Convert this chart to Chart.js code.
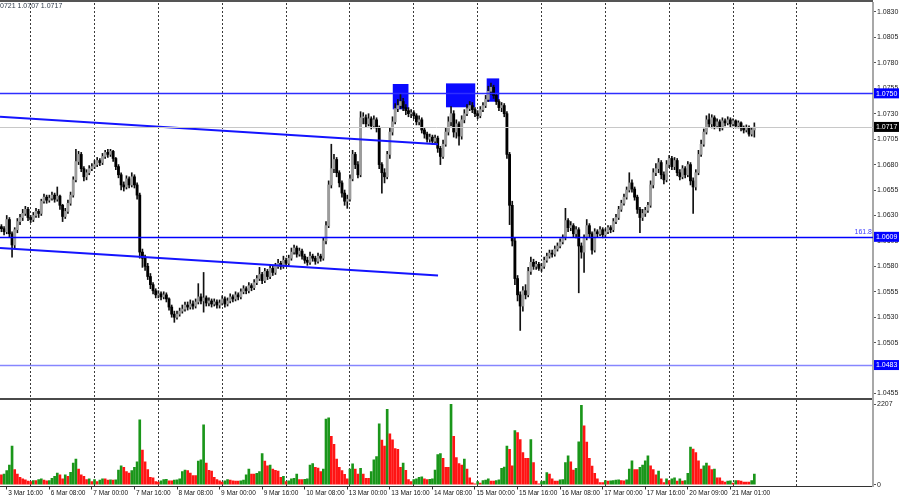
<!DOCTYPE html>
<html>
<head>
<meta charset="utf-8">
<script src="https://cdn.jsdelivr.net/npm/chart.js@4.4.1/dist/chart.umd.min.js"></script>
<style>
  html, body { margin: 0; padding: 0; background: #fff; }
  #wrap { position: relative; width: 900px; height: 500px; overflow: hidden; }
  #priceBox { position: absolute; left: 0; top: 0; width: 900px; height: 397px; }
  #volBox { position: absolute; left: 0; top: 397px; width: 900px; height: 103px; }
</style>
</head>
<body>
<div id="wrap">
  <div id="priceBox"><canvas id="priceChart"></canvas></div>
  <div id="volBox"><canvas id="volChart"></canvas></div>
</div>
<script>
// EURUSD H1, 3-21 Mar. OHLC kept in pips above 1.0000 (617 = 1.0617), one entry per hourly bar.
const OPEN = [
619,617,614,626,612,601,616,624,628,632,
636,628,626,630,634,632,644,648,645,647,
650,646,649,640,629,634,642,650,665,683,
690,676,668,672,676,678,680,684,682,688,
692,690,693,686,678,670,660,658,666,660,
668,660,650,594,588,580,570,562,556,552,
553,550,552,548,540,533,530,533,536,538,
542,540,543,541,545,550,546,549,544,546,
543,545,542,544,548,543,546,550,548,552,
550,555,558,556,561,559,564,568,572,566,
575,570,578,574,580,583,580,586,583,588,
594,598,592,595,590,586,584,590,588,585,
590,588,605,620,660,676,685,672,662,652,
644,646,666,690,680,670,726,726,720,725,
718,724,716,680,672,668,690,712,722,735,
738,742,736,733,730,731,728,722,724,714,
710,705,707,703,706,696,688,700,712,722,
730,712,720,708,724,730,735,738,734,730,
728,734,738,744,752,756,748,742,736,738,
730,690,640,605,568,552,541,556,552,575,
584,580,582,578,580,586,590,593,592,597,
600,604,608,625,618,620,612,616,600,594,
608,620,612,596,614,612,616,611,614,618,
616,624,628,636,642,648,655,662,656,648,
636,628,632,635,640,660,672,676,682,670,
665,680,686,678,684,672,668,676,670,680,
664,658,672,690,700,712,724,720,726,718,
722,716,723,721,724,720,723,718,721,716,
714,716,710,714
];
const HIGH = [
621,619,630,628,614,618,627,631,636,639,
638,630,633,637,636,646,651,650,650,653,
652,658,650,641,637,645,653,668,695,693,
692,678,675,679,681,684,687,686,691,694,
695,695,694,687,680,672,663,669,668,672,
670,662,652,597,591,583,573,564,558,556,
555,555,554,549,542,536,536,539,542,545,
545,547,546,548,563,553,574,551,549,548,
548,547,547,551,550,549,553,552,555,554,
558,561,560,564,563,567,571,579,574,578,
577,581,580,583,587,585,590,588,591,598,
601,600,598,597,592,589,594,592,590,593,
592,608,624,664,700,690,687,674,664,655,
650,670,694,692,683,732,731,729,730,727,
728,726,718,682,676,693,716,727,740,744,
750,745,739,736,734,733,730,728,726,716,
712,710,709,709,708,698,704,716,727,737,
733,724,722,728,734,739,742,741,736,733,
737,741,748,757,760,758,750,744,741,740,
732,692,644,608,571,555,560,562,579,589,
587,585,584,583,589,593,596,596,600,603,
607,611,637,627,624,622,619,618,603,611,
626,622,614,617,616,619,618,617,620,620,
627,631,639,645,651,658,672,665,658,650,
638,636,638,643,664,676,681,686,684,673,
684,689,688,687,686,675,679,678,683,682,
667,675,694,704,715,728,730,729,728,725,
724,726,725,727,726,725,724,723,722,718,
719,718,716,721
];
const LOW = [
614,611,612,609,589,598,613,621,625,630,
625,623,624,628,628,630,642,642,643,645,
643,644,636,624,627,632,640,648,663,680,
673,664,665,670,674,676,678,679,680,686,
687,688,683,675,667,655,654,656,657,658,
657,646,588,579,576,567,558,553,549,549,
547,548,545,537,530,525,528,531,534,536,
537,538,538,539,543,543,535,541,541,540,
541,539,539,542,540,541,544,545,546,547,
548,553,553,554,556,557,562,566,563,564,
567,568,571,572,578,577,578,580,581,586,
592,589,590,587,583,581,582,585,582,583,
585,586,602,618,657,672,668,658,648,640,
637,644,664,676,667,668,720,717,718,715,
716,712,676,652,662,666,686,709,720,732,
735,733,729,727,726,725,719,719,711,706,
702,702,700,701,692,680,686,698,709,718,
707,706,699,705,721,728,733,731,727,725,
726,732,736,742,749,745,739,733,732,727,
686,621,600,562,546,517,536,548,550,572,
577,577,576,575,578,584,588,589,590,595,
598,602,606,614,615,609,608,554,588,574,
606,608,592,594,609,610,608,609,612,613,
614,622,626,634,640,646,653,653,645,632,
613,625,629,633,638,657,669,672,666,661,
663,677,675,675,669,665,666,667,668,660,
632,655,670,688,698,710,717,716,715,716,
713,714,718,719,717,718,716,716,713,711,
712,708,708,707
];
const CLOSE = [
617,614,626,612,601,616,624,628,632,636,
628,626,630,634,632,644,648,645,647,650,
646,649,640,629,634,642,650,665,683,690,
676,668,672,676,678,680,684,682,688,692,
690,693,686,678,670,660,658,666,660,668,
660,650,594,588,580,570,562,556,552,553,
550,552,548,540,533,530,533,536,538,542,
540,543,541,545,550,546,549,544,546,543,
545,542,544,548,543,546,550,548,552,550,
555,558,556,561,559,564,568,572,566,575,
570,578,574,580,583,580,586,583,588,594,
598,592,595,590,586,584,590,588,585,590,
588,605,620,660,676,685,672,662,652,644,
646,666,690,680,670,726,726,720,725,718,
724,716,680,672,668,690,712,722,735,738,
742,736,733,730,731,728,722,724,714,710,
705,707,703,706,696,688,700,712,722,730,
712,720,708,724,730,735,738,734,730,728,
734,738,744,752,756,748,742,736,738,730,
690,640,605,568,552,541,556,552,575,584,
580,582,578,580,586,590,593,592,597,600,
604,608,625,618,620,612,616,600,594,608,
620,612,596,614,612,616,611,614,618,616,
624,628,636,642,648,655,662,656,648,636,
628,632,635,640,660,672,676,682,670,665,
680,686,678,684,672,668,676,670,680,664,
658,672,690,700,712,724,720,726,718,722,
716,723,721,724,720,723,718,721,716,714,
716,710,714,717
];
// tick volumes per bar
const VOLUME = [
270,297,387,540,1062,414,297,207,162,135,
99,90,117,117,144,162,126,108,117,180,
234,324,270,162,270,234,342,594,702,432,
270,234,144,162,90,144,90,126,162,162,
126,135,126,135,405,522,477,360,324,387,
477,630,1782,954,630,414,207,189,90,72,
108,144,153,108,108,126,135,162,360,405,
387,324,252,252,648,684,1647,594,396,378,
207,144,108,72,108,144,126,108,99,99,
108,126,270,432,297,297,315,360,855,648,
522,540,432,396,378,207,234,90,108,162,
180,297,144,144,153,162,540,585,477,459,
360,432,1800,1836,1332,1107,702,477,387,288,
162,432,576,432,297,450,297,180,180,360,
684,774,1674,1224,1062,2070,1395,1233,990,972,
477,594,396,144,90,144,162,207,216,162,
144,153,162,405,828,855,729,477,477,2207,
1332,747,585,540,702,432,189,54,27,90,
45,117,126,162,99,99,117,135,450,486,
1062,972,522,1485,1431,1242,882,729,729,1242,
612,99,27,90,99,333,297,162,99,99,
135,144,612,792,630,405,450,1179,2180,1620,
1170,729,513,315,162,63,63,117,99,108,
117,126,135,117,108,135,432,657,414,414,
477,540,657,792,522,414,270,378,162,63,
162,117,162,189,99,162,99,117,315,1035,
981,882,657,432,522,594,522,414,432,189,
189,99,72,99,108,45,117,117,99,72,
72,72,117,297
];

const TIME_LABELS = ['3 Mar 16:00', '6 Mar 08:00', '7 Mar 00:00', '7 Mar 16:00', '8 Mar 08:00',
  '9 Mar 00:00', '9 Mar 16:00', '10 Mar 08:00', '13 Mar 00:00', '13 Mar 16:00', '14 Mar 08:00',
  '15 Mar 00:00', '15 Mar 16:00', '16 Mar 08:00', '17 Mar 00:00', '17 Mar 16:00', '20 Mar 09:00',
  '21 Mar 01:00'];
const LABEL_BARS = [2, 18, 34, 50, 66, 82, 98, 114, 130, 146, 162, 178, 194, 210, 226, 242, 258, 274];
const GRID_BARS = [11, 35, 59, 83, 107, 131, 155, 179, 203, 227, 251, 275, 299];
const PRICE_TICKS = [1.0455, 1.0480, 1.0505, 1.0530, 1.0555, 1.0580, 1.0605, 1.0630, 1.0655,
  1.0680, 1.0705, 1.0730, 1.0755, 1.0780, 1.0805, 1.0830];
const VOL_TICKS = [0, 2207];

// horizontal levels and their tags on the price scale
const LEVELS = [1.0750, 1.0717, 1.0609, 1.0483];
const LEVEL_TAGS = ['1.0750', '1.0717', '1.0609', '1.0483'];
const FIBO_TEXT = '161.8';

// channel lines (bar index, price)
const TREND_X = [-0.53, 164.1];
const UPPER_Y = [1.0727, 1.0700];
const LOWER_Y = [1.0598, 1.0571];

// highlighted rectangles (bar index range, price range)
const BOX_FROM = [147.1, 167.1, 182.4];
const BOX_TO = [153.0, 178.1, 187.1];
const BOX_TOP = [1.07592, 1.07598, 1.07647];
const BOX_BOTTOM = [1.07343, 1.07363, 1.07418];

const HEADER = '1.0721 1.0707 1.0717';

const X_MIN = -0.53, X_MAX = 327.6;
const PRICE_MIN = 1.04516, PRICE_MAX = 1.08388;
const VOL_MIN = -47, VOL_MAX = 2326;

const AXIS_W = 27;
const FONT = 'Liberation Sans';
const BULL = '#9c9c9c';
const BEAR = '#000000';
const WICK = '#111111';
const BLUE = '#1414ff';
const VGREEN = '#1a961a';
const VRED = '#ff1414';
const LEVEL_COLORS = ['#2e2eff', '#c8c8c8', '#0000ff', '#8686ff'];
const LEVEL_WIDTHS = [1.4, 1, 1.5, 1.4];
const TAG_BG = ['#0000ff', '#000000', '#0000ff', '#0000ff'];

Chart.defaults.font.family = FONT;

const px = (p) => 1 + p / 10000;
const wickData = HIGH.map((h, i) => ({ x: i, y: [px(LOW[i]), px(h)] }));
const bodyData = OPEN.map((o, i) => ({ x: i, y: [px(o), px(CLOSE[i])] }));
const bodyColors = OPEN.map((o, i) => (CLOSE[i] >= o ? BULL : BEAR));
const volData = VOLUME.map((v, i) => ({ x: i, y: v }));
const volColors = VOLUME.map((v, i) => (i > 0 && v > VOLUME[i - 1] ? VGREEN : VRED));

function xAxis(ticksAt, extra) {
  return Object.assign({
    type: 'linear', min: X_MIN, max: X_MAX, bounds: 'data', offset: false,
    afterBuildTicks: (s) => { s.ticks = ticksAt.map((v) => ({ value: v })); },
    afterFit: (s) => { s.height = 0; s.paddingLeft = 0; s.paddingRight = 0; },
    ticks: { display: false },
    grid: { offset: false, color: '#3a3a3a', lineWidth: 1, drawTicks: false },
    border: { display: false, dash: [2, 2] },
  }, extra || {});
}

const priceOverlay = {
  id: 'priceOverlay',
  beforeDatasetsDraw(chart) {
    const { ctx, scales: { x, y } } = chart;
    ctx.save();
    ctx.fillStyle = '#0a0aff';
    BOX_FROM.forEach((f, i) => {
      const l = x.getPixelForValue(f), r = x.getPixelForValue(BOX_TO[i]);
      const t = y.getPixelForValue(BOX_TOP[i]), b = y.getPixelForValue(BOX_BOTTOM[i]);
      ctx.fillRect(l, t, r - l, b - t);
    });
    ctx.restore();
  },
  afterDraw(chart) {
    const { ctx, chartArea: a, scales: { y } } = chart;
    ctx.save();
    // level lines
    LEVELS.forEach((lv, i) => {
      const py = Math.round(y.getPixelForValue(lv)) + 0.5;
      ctx.strokeStyle = LEVEL_COLORS[i];
      ctx.lineWidth = LEVEL_WIDTHS[i];
      ctx.beginPath();
      ctx.moveTo(a.left, py);
      ctx.lineTo(a.right, py);
      ctx.stroke();
    });
    // fibo text above 1.0609
    ctx.font = '7px ' + FONT;
    ctx.fillStyle = '#3b3bff';
    ctx.textAlign = 'right';
    ctx.textBaseline = 'bottom';
    ctx.fillText(FIBO_TEXT, a.right - 1, y.getPixelForValue(LEVELS[2]) - 1);
    // tags on the price scale
    ctx.textAlign = 'left';
    ctx.textBaseline = 'middle';
    LEVELS.forEach((lv, i) => {
      const py = y.getPixelForValue(lv);
      ctx.fillStyle = TAG_BG[i];
      ctx.fillRect(a.right + 1, py - 5, 25, 10);
      ctx.fillStyle = '#ffffff';
      ctx.fillText(LEVEL_TAGS[i], a.right + 3, py + 0.5);
    });
    // top border and header text
    ctx.fillStyle = '#555';
    ctx.fillRect(0, 0, a.right, 2);
    ctx.fillStyle = '#2f3b4a';
    ctx.textBaseline = 'middle';
    ctx.fillText(HEADER, -ctx.measureText('1.').width, 6.5);
    ctx.restore();
  },
};

new Chart(document.getElementById('priceChart'), {
  type: 'bar',
  data: {
    datasets: [
      { type: 'line', data: TREND_X.map((x, i) => ({ x, y: UPPER_Y[i] })), borderColor: BLUE,
        borderWidth: 2, pointRadius: 0, order: 0 },
      { type: 'line', data: TREND_X.map((x, i) => ({ x, y: LOWER_Y[i] })), borderColor: BLUE,
        borderWidth: 2, pointRadius: 0, order: 0 },
      { data: bodyData, backgroundColor: bodyColors, barThickness: 2.2, minBarLength: 1,
        grouped: false, order: 1 },
      { data: wickData, backgroundColor: WICK, barThickness: 1, grouped: false, order: 2 },
    ],
  },
  options: {
    responsive: true,
    maintainAspectRatio: false,
    animation: false,
    layout: { padding: { top: 3, bottom: 0, left: 0, right: 0 } },
    plugins: { legend: { display: false }, tooltip: { enabled: false } },
    scales: {
      x: xAxis(GRID_BARS),
      y: {
        position: 'right', min: PRICE_MIN, max: PRICE_MAX, bounds: 'data',
        afterBuildTicks: (s) => { s.ticks = PRICE_TICKS.map((v) => ({ value: v })); },
        afterFit: (s) => { s.width = AXIS_W; s.paddingTop = 0; s.paddingBottom = 0; },
        ticks: { font: { size: 7 }, color: '#222', padding: 1, autoSkip: false,
          callback: (v) => v.toFixed(4) },
        grid: { drawOnChartArea: false, drawTicks: true, tickLength: 3, tickColor: '#555' },
        border: { display: true, color: '#a8a8a8', width: 2 },
      },
    },
  },
  plugins: [priceOverlay],
});

const volOverlay = {
  id: 'volOverlay',
  afterDraw(chart) {
    const { ctx, chartArea: a } = chart;
    ctx.save();
    ctx.fillStyle = '#4a4a4a';
    ctx.fillRect(0, 1, a.right, 2);
    ctx.fillStyle = '#a8a8a8';
    ctx.fillRect(a.right - 1, 0, 2, a.top);
    ctx.restore();
  },
};

new Chart(document.getElementById('volChart'), {
  type: 'bar',
  data: {
    datasets: [
      { data: volData, backgroundColor: volColors, barThickness: 2, grouped: false },
    ],
  },
  options: {
    responsive: true,
    maintainAspectRatio: false,
    animation: false,
    layout: { padding: { top: 3, bottom: 0, left: 0, right: 0 } },
    plugins: { legend: { display: false }, tooltip: { enabled: false } },
    scales: {
      x: xAxis(LABEL_BARS, {
        afterFit: (s) => { s.height = 13.5; s.paddingLeft = 0; s.paddingRight = 0; },
        ticks: { display: true, autoSkip: false, maxRotation: 0, minRotation: 0, align: 'start',
          labelOffset: 1.5, padding: 0, font: { size: 6.5 }, color: '#111',
          callback: (v) => TIME_LABELS[LABEL_BARS.indexOf(v)] },
        grid: { offset: false, drawOnChartArea: false, drawTicks: true, tickLength: 3, tickColor: '#333' },
        border: { display: true, color: '#333', width: 1 },
      }),
      xg: xAxis(GRID_BARS),
      y: {
        position: 'right', min: VOL_MIN, max: VOL_MAX, bounds: 'data',
        afterBuildTicks: (s) => { s.ticks = VOL_TICKS.map((v) => ({ value: v })); },
        afterFit: (s) => { s.width = AXIS_W; s.paddingTop = 0; s.paddingBottom = 0; },
        ticks: { font: { size: 7 }, color: '#222', padding: 1, autoSkip: false,
          callback: (v) => String(v) },
        grid: { drawOnChartArea: false, drawTicks: true, tickLength: 3, tickColor: '#555' },
        border: { display: true, color: '#a8a8a8', width: 2 },
      },
    },
  },
  plugins: [volOverlay],
});
</script>
</body>
</html>
